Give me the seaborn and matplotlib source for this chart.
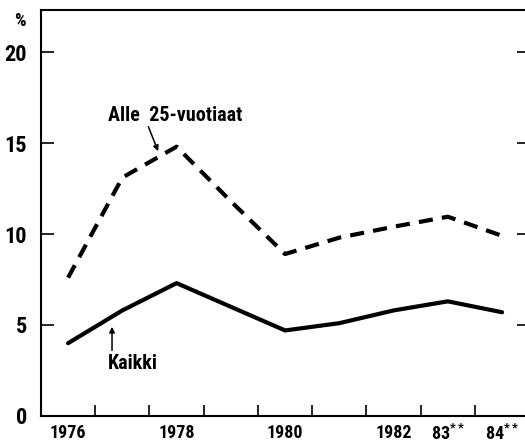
import pandas as pd
import seaborn as sns
import matplotlib.pyplot as plt
from matplotlib import font_manager
from matplotlib.ticker import FixedLocator

# Data
years = [1976, 1977, 1978, 1979, 1980, 1981, 1982, 1983, 1984]
alle25 = [7.6, 13.1, 14.8, 11.8, 8.9, 9.8, 10.4, 10.95, 9.9]
kaikki = [4.0, 5.8, 7.3, 6.0, 4.7, 5.1, 5.8, 6.3, 5.7]
year_labels = ["1976", "1978", "1980", "1982", "83$^{**}$", "84$^{**}$"]
year_label_pos = [1976, 1978, 1980, 1982, 1983, 1984]
y_ticks = [0, 5, 10, 15, 20]

df = pd.DataFrame({
    "vuosi": years * 2,
    "osuus": alle25 + kaikki,
    "ryhma": ["Alle 25-vuotiaat"] * len(years) + ["Kaikki"] * len(years),
})

names = {f.name for f in font_manager.fontManager.ttflist}
fam = [n for n in ["Liberation Sans Narrow", "Roboto Condensed", "Roboto"] if n in names]
fam = (fam[:1] or []) + ["DejaVu Sans"]

sns.set_theme(style="white")
plt.rcParams["font.family"] = fam
plt.rcParams["font.weight"] = "bold"
plt.rcParams["text.color"] = "black"
plt.rcParams["mathtext.fontset"] = "custom"
plt.rcParams["mathtext.rm"] = fam[0] + ":bold"
plt.rcParams["mathtext.default"] = "regular"

fig = plt.figure(figsize=(5.25, 4.43), dpi=100)
ax = fig.add_axes([0.078, 0.061, 0.93, 0.916])

sns.lineplot(data=df, x="vuosi", y="osuus", style="ryhma",
             dashes={"Alle 25-vuotiaat": (3.4, 2.2), "Kaikki": ""},
             color="black", linewidth=3, legend=False, ax=ax)

ax.set_xlim(1975.5, 1984.5)
ax.set_ylim(0, 22.3)
ax.set_xlabel("")
ax.set_ylabel("")

for s in ax.spines.values():
    s.set_color("black")
    s.set_linewidth(1.5)

ax.set_yticks(y_ticks)
ax.set_yticklabels([str(v) for v in y_ticks], fontsize=16, fontweight="bold")
ax.tick_params(axis="y", direction="in", length=9, width=1.2, right=True,
               left=True, pad=10, colors="black", labelcolor="black")

ax.set_xticks(year_label_pos)
ax.set_xticklabels(year_labels, fontsize=13, fontweight="bold")
ax.xaxis.set_minor_locator(FixedLocator([y + 0.5 for y in years[:-1]]))
ax.tick_params(axis="x", which="major", length=0, pad=6, colors="black",
               labelcolor="black")
ax.tick_params(axis="x", which="minor", direction="in", length=8, width=1.2,
               bottom=True, colors="black")

ax.text(-0.032, 0.995, "%", transform=ax.transAxes, fontsize=13,
        fontweight="bold", ha="right", va="top", color="black")

ax.text(1976.74, 16.0, "Alle  25-vuotiaat", fontsize=14.5, fontweight="bold",
        ha="left", va="bottom", color="black")
ax.annotate("", xy=(1977.66, 14.55), xytext=(1977.48, 15.9),
            arrowprops=dict(arrowstyle="-|>", color="black", lw=1.1,
                            shrinkA=0, shrinkB=0, mutation_scale=8))
ax.text(1976.74, 2.35, "Kaikki", fontsize=14.5, fontweight="bold",
        ha="left", va="bottom", color="black")
ax.annotate("", xy=(1976.81, 4.9), xytext=(1976.81, 3.6),
            arrowprops=dict(arrowstyle="-|>", color="black", lw=1.1,
                            shrinkA=0, shrinkB=0, mutation_scale=8))

fig.savefig("out.png", dpi=100)
